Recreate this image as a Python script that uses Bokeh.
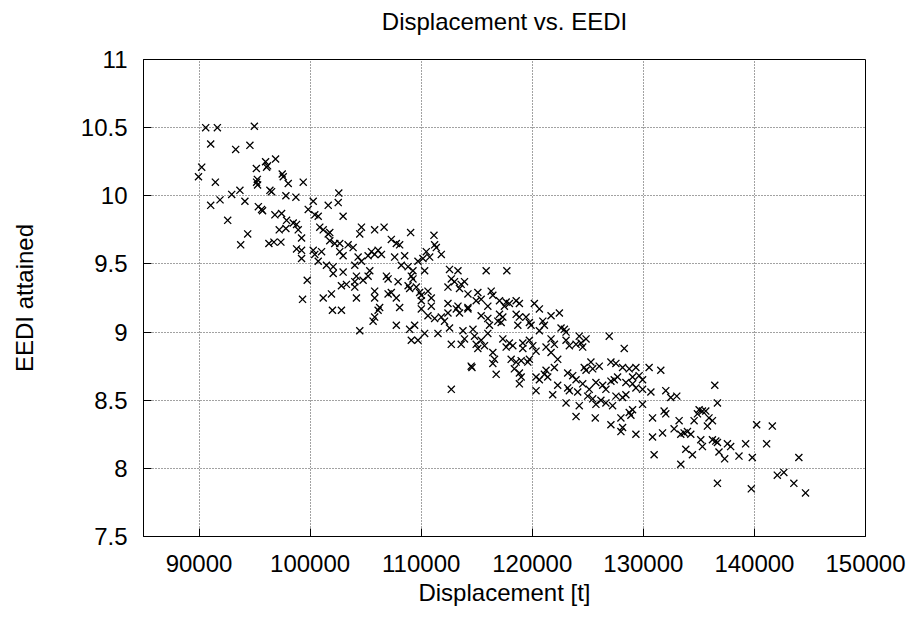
from bokeh.plotting import figure
from bokeh.models import FixedTicker, Range1d
from bokeh.embed import file_html
from bokeh.resources import INLINE

# Displacement [t]
displacement = [
    90600, 91650, 94980, 91050, 93300, 94580, 95990, 96890, 96170, 96080,
    90240, 95160, 89950, 97490, 97580, 91470, 95250, 95180, 95270, 98030,
    99380, 96380, 96530, 93680, 92940, 97820, 98720, 102580, 102530, 100280,
    101630, 91890, 91050, 94130, 95340, 95630, 95720, 96830, 97430, 99830,
    100420, 100730, 102970, 92580, 97880, 98480, 98780, 97220, 97820, 98930,
    100870, 101180, 101630, 101770, 94380, 99230, 101770, 102220, 102670, 93750,
    96290, 96740, 97370, 98780, 99230, 100280, 101030, 102670,
    99230, 99740, 99320, 101180, 101920, 102010, 102820, 102080, 102970, 101470,
    102080, 100730, 100420, 102820,
    104620, 104470, 105810, 106660, 109050, 111150, 107310, 107760, 108060, 111210,
    111360, 103420, 103870, 102970, 105520, 105810, 106120, 105220, 106420, 107610,
    108510, 110460, 110760, 111810, 104320, 104620, 109710, 110160, 104020, 108210,
    108820, 109260, 110310, 112550, 113310, 115850, 105370, 105220, 104770, 104170,
    104020, 103270, 106870, 107020, 109110, 109260, 107920, 108820, 108960, 109560,
    109860, 110010, 110610, 110910, 112710, 113000, 113600, 113900, 112410, 113450,
    104020, 105810, 107020, 107310, 107760, 105810, 104170, 114210, 115100, 115400,
    116300, 116450, 114950, 116000, 110010, 110910, 112410, 113310, 114210, 106260,
    106120, 105810, 105670, 108060, 104470, 107760, 108960, 109410, 109110, 109710,
    110310, 110010, 110610, 111210, 111810, 112100, 112550, 111510, 112410, 113160,
    113450, 114210, 112710, 113600, 113760, 113900, 114660, 114800, 114950, 115100,
    115400, 115700, 116000, 116150, 116450, 116600, 116450, 116750, 115400, 116000,
    114500, 114570, 112710,
    117710, 117050, 117650, 117940, 117490, 118550, 118840, 120190, 120640, 121690,
    122440, 117050, 117350, 116900, 117200, 118550, 118840, 119440, 118700, 119740,
    119890, 120950, 121090, 120640, 122590, 122890, 123040, 124230, 124840, 124390,
    126930, 128280, 117350, 117940, 118250, 119150, 119740, 120050, 121690, 121990,
    123040, 123340, 123940, 124540,
    117650, 119150, 120340, 121240, 121690, 118100, 118550, 119000, 119600, 119740,
    118390, 118840, 119000, 118840, 121240, 121090, 121390, 120640, 121990, 122290,
    120340, 120340, 122290, 121840, 123190, 123640, 123940, 124680, 125280, 124840,
    125440, 126030, 127080, 127530, 128130, 128730, 129330, 129620, 129030, 129930,
    123190, 123340, 124090, 124540, 125130, 125730, 126340, 126630, 127080, 127380,
    127680, 128430, 129030, 129330, 129930, 130680, 130520, 123040, 124230, 124990,
    125440, 125730, 126180, 126630, 127230, 127530, 128130, 128430, 129030, 128730,
    128880, 129930, 123940, 125670, 127080, 127980, 128130, 127980, 129330, 130830,
    130830,
    131570, 136430, 132020, 132470, 133010, 136670, 131870, 132020, 135020, 135320,
    135620, 134870,
    133220, 134570, 135910, 136220, 135770, 132770, 133370, 133670, 133970, 134270,
    131730, 135170, 135320, 136220, 136520, 136670, 137570, 137860, 139210, 141100,
    140200, 141610, 133820, 134420, 130970, 133370, 136810, 137320, 138610, 139810,
    144000, 136670, 139720, 142060, 142650, 143550, 144600,
]

# EEDI attained
eedi = [
    10.50, 10.50, 10.51, 10.38, 10.34, 10.37, 10.25, 10.27, 10.22, 10.21,
    10.21, 10.20, 10.14, 10.16, 10.14, 10.10, 10.12, 10.10, 10.08, 10.09,
    10.10, 10.04, 10.03, 10.04, 10.01, 10.00, 9.99, 10.02, 9.95, 9.96,
    9.93, 9.97, 9.93, 9.96, 9.92, 9.90, 9.89, 9.86, 9.87, 9.90,
    9.86, 9.85, 9.85, 9.82, 9.82, 9.80, 9.79, 9.75, 9.76, 9.75,
    9.77, 9.75, 9.72, 9.73, 9.72, 9.69, 9.67, 9.65, 9.65, 9.64,
    9.65, 9.66, 9.66, 9.61, 9.60, 9.60, 9.59, 9.59,
    9.54, 9.38, 9.24, 9.25, 9.28, 9.16, 9.16, 9.43, 9.44, 9.49,
    9.48, 9.52, 9.57, 9.34,
    9.77, 9.72, 9.75, 9.77, 9.73, 9.71, 9.68, 9.65, 9.64, 9.64,
    9.62, 9.64, 9.62, 9.56, 9.59, 9.57, 9.60, 9.56, 9.57, 9.55,
    9.56, 9.59, 9.55, 9.57, 9.55, 9.52, 9.52, 9.54, 9.49, 9.49,
    9.48, 9.45, 9.45, 9.46, 9.45, 9.45, 9.45, 9.41, 9.38, 9.41,
    9.37, 9.35, 9.41, 9.39, 9.41, 9.39, 9.37, 9.34, 9.32, 9.33,
    9.29, 9.27, 9.30, 9.25, 9.39, 9.37, 9.35, 9.37, 9.33, 9.32,
    9.33, 9.30, 9.28, 9.29, 9.25, 9.25, 9.25, 9.28, 9.29, 9.24,
    9.30, 9.27, 9.23, 9.19, 9.23, 9.19, 9.21, 9.19, 9.18, 9.18,
    9.16, 9.11, 9.08, 9.18, 9.01, 9.05, 9.02, 9.05, 8.94, 8.94,
    8.99, 9.17, 9.12, 9.10, 9.11, 9.08, 9.03, 8.99, 9.14, 9.17,
    9.14, 9.17, 8.91, 8.91, 9.01, 8.95, 9.02, 8.97, 8.91, 8.88,
    8.94, 8.90, 8.99, 9.05, 8.85, 8.80, 8.77, 8.69, 9.12, 9.10,
    8.75, 8.74, 8.58,
    9.45, 9.23, 9.22, 9.21, 9.19, 9.23, 9.21, 9.21, 9.17, 9.12,
    9.14, 9.13, 9.11, 9.08, 9.07, 9.13, 9.11, 9.11, 9.05, 9.07,
    9.05, 9.08, 9.05, 9.01, 9.03, 9.02, 9.00, 8.97, 8.95, 8.92,
    8.97, 8.88, 8.95, 8.92, 8.90, 8.92, 8.94, 8.90, 8.95, 8.91,
    8.94, 8.90, 8.91, 8.89,
    8.89, 8.88, 8.86, 8.89, 8.85, 8.80, 8.78, 8.79, 8.78, 8.80,
    8.73, 8.70, 8.67, 8.62, 8.72, 8.69, 8.67, 8.65, 8.74, 8.80,
    8.67, 8.57, 8.61, 8.54, 8.70, 8.68, 8.65, 8.74, 8.78, 8.72,
    8.73, 8.75, 8.78, 8.77, 8.74, 8.73, 8.74, 8.68, 8.67, 8.65,
    8.59, 8.57, 8.56, 8.62, 8.58, 8.63, 8.61, 8.58, 8.64, 8.65,
    8.67, 8.63, 8.62, 8.59, 8.58, 8.56, 8.74, 8.48, 8.46, 8.53,
    8.51, 8.47, 8.50, 8.48, 8.46, 8.53, 8.52, 8.54, 8.43, 8.41,
    8.39, 8.47, 8.38, 8.37, 8.32, 8.37, 8.30, 8.27, 8.25, 8.37,
    8.23,
    8.72, 8.61, 8.57, 8.52, 8.53, 8.48, 8.42, 8.40, 8.43, 8.42,
    8.42, 8.40,
    8.35, 8.35, 8.37, 8.35, 8.31, 8.29, 8.25, 8.26, 8.27, 8.25,
    8.26, 8.21, 8.16, 8.21, 8.20, 8.19, 8.18, 8.16, 8.18, 8.18,
    8.32, 8.31, 8.14, 8.10, 8.10, 8.03, 8.12, 8.07, 8.09, 8.08,
    8.08, 7.89, 7.85, 7.95, 7.97, 7.89, 7.82,
]

x_ticks = [90000, 100000, 110000, 120000, 130000, 140000, 150000]
y_ticks = [7.5, 8, 8.5, 9, 9.5, 10, 10.5, 11]

FONT = "Liberation Sans"
FS = "24px"

p = figure(
    frame_width=722, frame_height=477,
    min_border_left=143, min_border_right=45,
    min_border_top=59, min_border_bottom=74,
    x_range=Range1d(85000, 150000), y_range=Range1d(7.5, 11),
    output_backend="svg", toolbar_location=None,
    title="Displacement vs. EEDI",
)

p.title.align = "center"
p.title.text_font = FONT
p.title.text_font_size = FS
p.title.text_font_style = "normal"
p.title.text_color = "black"
if "padding" in p.title.properties():
    p.title.standoff = 0
    p.title.padding = dict(left=0, right=0, top=0, bottom=25)
else:
    p.title.standoff = 28

p.scatter(displacement, eedi, marker="x", size=10, line_color="black", line_width=1.3)

for ax in (p.xaxis[0], p.yaxis[0]):
    ax.major_tick_in = 8
    ax.major_tick_out = 0
    ax.minor_tick_line_color = None
    ax.axis_line_color = "black"
    ax.major_tick_line_color = "black"
    ax.major_label_text_font = FONT
    ax.major_label_text_font_size = FS
    ax.major_label_text_color = "black"
    ax.axis_label_text_font = FONT
    ax.axis_label_text_font_size = FS
    ax.axis_label_text_font_style = "normal"
    ax.axis_label_text_color = "black"

p.xaxis[0].ticker = FixedTicker(ticks=x_ticks)
p.yaxis[0].ticker = FixedTicker(ticks=y_ticks)
p.xaxis[0].formatter.use_scientific = False
p.xaxis[0].axis_label = "Displacement [t]"
p.yaxis[0].axis_label = "EEDI attained"
p.xaxis[0].major_label_standoff = 18
p.yaxis[0].major_label_standoff = 16
p.xaxis[0].axis_label_standoff = 4
p.yaxis[0].axis_label_standoff = 40

p.xgrid.ticker = FixedTicker(ticks=x_ticks)
p.ygrid.ticker = FixedTicker(ticks=y_ticks)
for g in (p.xgrid[0], p.ygrid[0]):
    g.grid_line_color = "#444444"
    g.grid_line_dash = "1 2"
    g.grid_line_width = 1

p.outline_line_color = "black"
p.outline_line_width = 1
p.background_fill_color = "white"
p.border_fill_color = "white"

open("out.html", "w").write(file_html(p, INLINE))
